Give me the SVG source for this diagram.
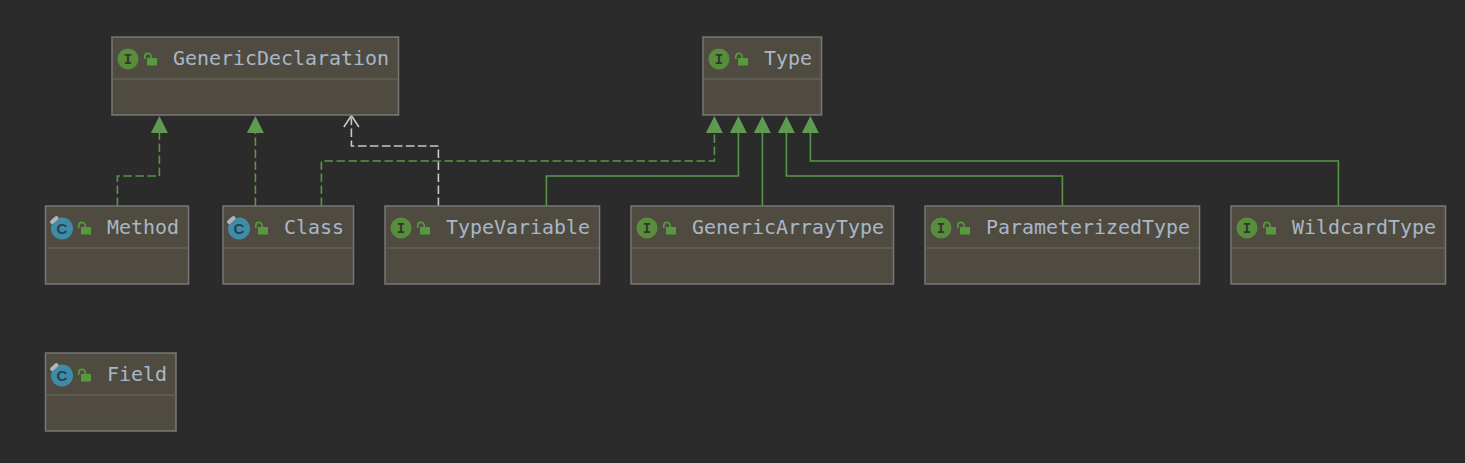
<svg xmlns="http://www.w3.org/2000/svg" width="1465" height="463" viewBox="0 0 1465 463">
<style>
.box{fill:#4f4b41;stroke:#777777;stroke-width:1.5}
.sep{stroke:#625f56;stroke-width:1.3}
.t{font-family:"DejaVu Sans Mono","Liberation Mono",monospace;font-size:19.93px;fill:#a9b7c6}
.ii{fill:#5a8c3e}
.il{font-family:"Liberation Mono",monospace;font-size:14px;font-weight:bold;fill:#2f3a26;text-anchor:middle}
.ci{fill:#3f8ba8}
.cl{font-family:"Liberation Sans",sans-serif;font-size:15px;font-weight:bold;fill:#24424f;text-anchor:middle}
.lk{fill:#57993f}
.lks{fill:none;stroke:#57993f;stroke-width:1.7}
.c{fill:none;stroke:#5a9648;stroke-width:1.6}
.d{stroke-dasharray:8.500 3.500}
.g{fill:none;stroke:#c8c8c8;stroke-width:1.6}
.h{fill:#5f9a50}
</style>
<defs>
<g id="lock"><rect x="1" y="0" width="10" height="7.500" class="lk"/><path d="M-1.200 1V-1.500a3.200 3.200 0 0 1 6.400 0V0.500" class="lks"/></g>
<g id="ic"><circle r="10.500" class="ii"/><text y="4.500" class="il">I</text></g>
<g id="cc"><circle r="11" class="ci"/><text y="5.500" class="cl">C</text><path d="M-10 -6.500L-5.500 -10.500" stroke="#b5b5b5" stroke-width="4" stroke-linecap="round"/></g>
</defs>
<rect width="1465" height="463" fill="#2b2b2b"/>
<g id="connectors" transform="translate(0.400 0)">
<path class="c d" d="M117 206V176H159V132"/>
<path class="c d" d="M255 206V132"/>
<path class="g d" d="M438 206V146H351V118"/>
<path class="g" d="M343.500 127L351 115.500L358.500 127"/>
<path class="c d" d="M321 206V161H714V132"/>
<path class="c" d="M546 206V176H738V132"/>
<path class="c" d="M762 206V132"/>
<path class="c" d="M1062 206V176H786V132"/>
<path class="c" d="M1338 206V161H810V132"/>
<polygon class="h" points="159,116 150.500,133 167.500,133"/>
<polygon class="h" points="255,116 246.500,133 263.500,133"/>
<polygon class="h" points="714,116 705.500,133 722.500,133"/>
<polygon class="h" points="738,116 729.500,133 746.500,133"/>
<polygon class="h" points="762,116 753.500,133 770.500,133"/>
<polygon class="h" points="786,116 777.500,133 794.500,133"/>
<polygon class="h" points="810,116 801.500,133 818.500,133"/>
</g>
<g id="GenericDeclaration"><rect class="box" x="112" y="37" width="286.500" height="78"/><path class="sep" d="M113 79H398"/><use href="#ic" x="128" y="59"/><use href="#lock" x="146" y="58"/><text class="t" x="173" y="65">GenericDeclaration</text></g>
<g id="Type"><rect class="box" x="703" y="37" width="118.500" height="78"/><path class="sep" d="M704 79H821"/><use href="#ic" x="719" y="59"/><use href="#lock" x="737" y="58"/><text class="t" x="764" y="65">Type</text></g>
<g id="Method"><rect class="box" x="45.500" y="206" width="143" height="78"/><path class="sep" d="M46 248H188"/><use href="#cc" x="62" y="228.500"/><use href="#lock" x="80" y="227"/><text class="t" x="107" y="234">Method</text></g>
<g id="Class"><rect class="box" x="223" y="206" width="130.500" height="78"/><path class="sep" d="M224 248H353"/><use href="#cc" x="239" y="228.500"/><use href="#lock" x="257" y="227"/><text class="t" x="284" y="234">Class</text></g>
<g id="TypeVariable"><rect class="box" x="385" y="206" width="214.500" height="78"/><path class="sep" d="M386 248H599"/><use href="#ic" x="401" y="228"/><use href="#lock" x="419" y="227"/><text class="t" x="446" y="234">TypeVariable</text></g>
<g id="GenericArrayType"><rect class="box" x="631" y="206" width="262.500" height="78"/><path class="sep" d="M632 248H893"/><use href="#ic" x="647" y="228"/><use href="#lock" x="665" y="227"/><text class="t" x="692" y="234">GenericArrayType</text></g>
<g id="ParameterizedType"><rect class="box" x="925" y="206" width="274.500" height="78"/><path class="sep" d="M926 248H1199"/><use href="#ic" x="941" y="228"/><use href="#lock" x="959" y="227"/><text class="t" x="986" y="234">ParameterizedType</text></g>
<g id="WildcardType"><rect class="box" x="1231" y="206" width="214.500" height="78"/><path class="sep" d="M1232 248H1445"/><use href="#ic" x="1247" y="228"/><use href="#lock" x="1265" y="227"/><text class="t" x="1292" y="234">WildcardType</text></g>
<g id="Field"><rect class="box" x="45.500" y="353" width="130.500" height="78"/><path class="sep" d="M46 395H176"/><use href="#cc" x="62" y="375.500"/><use href="#lock" x="80" y="374"/><text class="t" x="107" y="381">Field</text></g>
</svg>
